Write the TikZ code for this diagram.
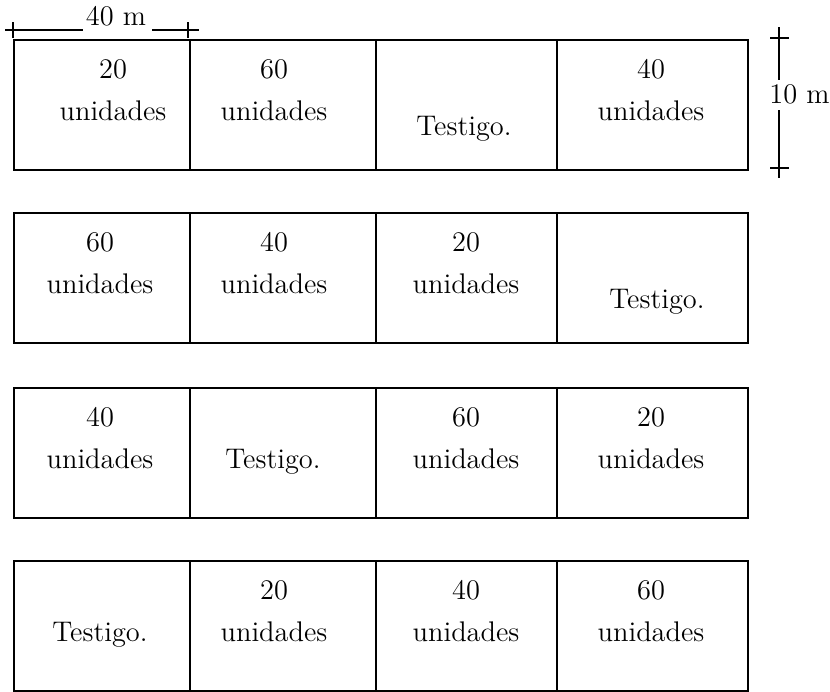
\documentclass[tikz,border=0pt]{standalone}
\usepackage{tikz}
\tikzset{
  parcela/.style={draw=black, line width=1.1pt},
  cota/.style={line width=1pt},
  rotulo/.style={font=\fontsize{14.2}{17}\selectfont, inner sep=0pt, anchor=base},
}
\begin{document}
\begin{tikzpicture}[x=0.5pt, y=-0.5pt]
    \useasboundingbox (0,0) rectangle (830,691);

    % Parcelas: cuatro bloques de cuatro tratamientos
    \foreach \t in {40,213,388,561}{
        \draw[parcela] (14,\t) rectangle (748,\t+130);
        \draw[parcela] (190,\t) -- (190,\t+130) (376,\t) -- (376,\t+130) (557,\t) -- (557,\t+130);
    }

    % Bloque 1
    \node[rotulo] (b1n1) at (113,78) {20};
    \node[rotulo] (b1u1) at (113,120) {unidades};
    \node[rotulo] (b1n2) at (274,78) {60};
    \node[rotulo] (b1u2) at (274,120) {unidades};
    \node[rotulo] (b1t) at (464,135) {Testigo.};
    \node[rotulo] (b1n4) at (651,78) {40};
    \node[rotulo] (b1u4) at (651,120) {unidades};

    % Bloque 2
    \node[rotulo] (b2n1) at (100,251) {60};
    \node[rotulo] (b2u1) at (100,293) {unidades};
    \node[rotulo] (b2n2) at (274,251) {40};
    \node[rotulo] (b2u2) at (274,293) {unidades};
    \node[rotulo] (b2n3) at (466,251) {20};
    \node[rotulo] (b2u3) at (466,293) {unidades};
    \node[rotulo] (b2t) at (657,308) {Testigo.};

    % Bloque 3
    \node[rotulo] (b3n1) at (100,426) {40};
    \node[rotulo] (b3u1) at (100,468) {unidades};
    \node[rotulo] (b3t) at (273,468) {Testigo.};
    \node[rotulo] (b3n3) at (466,426) {60};
    \node[rotulo] (b3u3) at (466,468) {unidades};
    \node[rotulo] (b3n4) at (651,426) {20};
    \node[rotulo] (b3u4) at (651,468) {unidades};

    % Bloque 4
    \node[rotulo] (b4t) at (100,641) {Testigo.};
    \node[rotulo] (b4n2) at (274,599) {20};
    \node[rotulo] (b4u2) at (274,641) {unidades};
    \node[rotulo] (b4n3) at (466,599) {40};
    \node[rotulo] (b4u3) at (466,641) {unidades};
    \node[rotulo] (b4n4) at (651,599) {60};
    \node[rotulo] (b4u4) at (651,641) {unidades};

    % Cota horizontal (ancho de parcela)
    \node[rotulo] (ancho) at (116,25) {40 m};
    \coordinate (h0) at (5,30);
    \coordinate (h1) at (83,30);
    \coordinate (h2) at (152,30);
    \coordinate (h3) at (199,30);
    \draw[cota] (h0) -- (h1);
    \draw[cota] (h2) -- (h3);
    \draw[cota] (13,22) -- (13,38);
    \draw[cota] (188,22) -- (188,38);

    % Cota vertical (largo de parcela)
    \node[rotulo, anchor=base west] (largo) at (769,103) {10 m};
    \coordinate (v0) at (779,27);
    \coordinate (v1) at (779,80);
    \coordinate (v2) at (779,110);
    \coordinate (v3) at (779,178);
    \draw[cota] (v0) -- (v1);
    \draw[cota] (v2) -- (v3);
    \draw[cota] (770,38) -- (789,38);
    \draw[cota] (770,168) -- (789,168);
\end{tikzpicture}
\end{document}
